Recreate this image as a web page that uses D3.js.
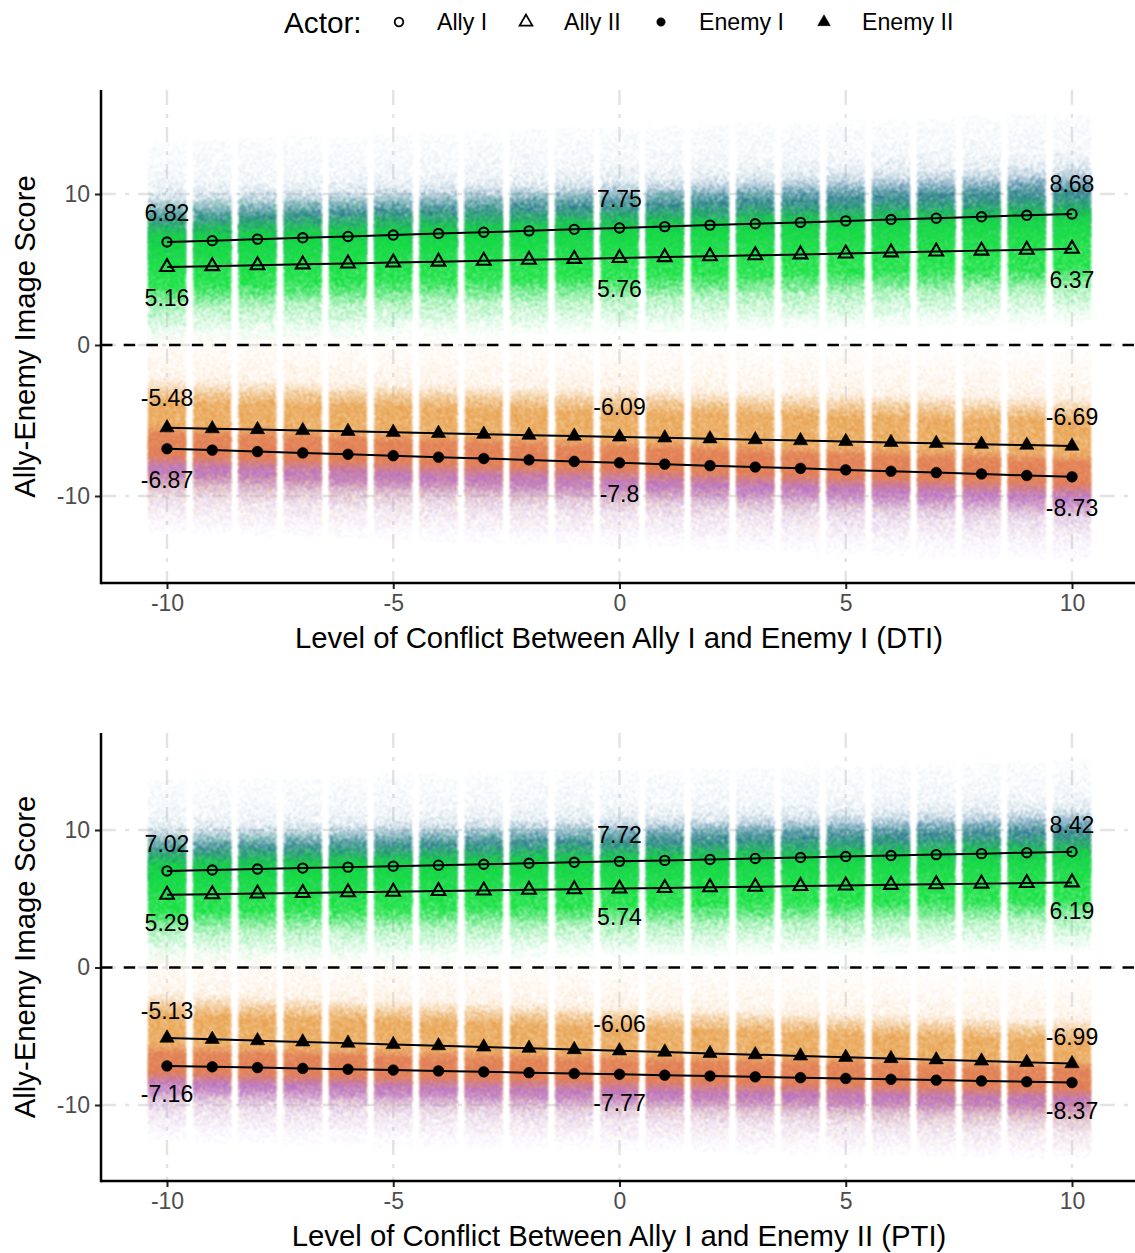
<!DOCTYPE html>
<html>
<head>
<meta charset="utf-8">
<style>
  html, body { margin: 0; padding: 0; background: #fff; }
  text { font-family: "Liberation Sans", Arial, sans-serif; }
</style>
<script src="https://cdn.jsdelivr.net/npm/d3@7"></script>
</head>
<body>
<div id="chart"></div>
<script>
// x positions
var levels = [-10, -9, -8, -7, -6, -5, -4, -3, -2, -1, 0, 1, 2, 3, 4, 5, 6, 7, 8, 9, 10];
var xTicks = [-10, -5, 0, 5, 10];
var yTicks = [-10, 0, 10];
var labelledLevels = [-10, 0, 10];
var actorNames = ["Ally I", "Ally II", "Enemy I", "Enemy II"];

// top panel (DTI)
var dtiAlly1 = [6.82, 6.91, 7.01, 7.10, 7.19, 7.28, 7.38, 7.47, 7.56, 7.66, 7.75, 7.84, 7.94, 8.03, 8.12, 8.22, 8.31, 8.40, 8.49, 8.59, 8.68];
var dtiAlly2 = [5.16, 5.22, 5.28, 5.34, 5.40, 5.46, 5.52, 5.58, 5.64, 5.70, 5.76, 5.82, 5.88, 5.94, 6.00, 6.06, 6.13, 6.19, 6.25, 6.31, 6.37];
var dtiEnemy1 = [-6.87, -6.96, -7.06, -7.15, -7.24, -7.33, -7.43, -7.52, -7.61, -7.71, -7.80, -7.89, -7.99, -8.08, -8.17, -8.27, -8.36, -8.45, -8.54, -8.64, -8.73];
var dtiEnemy2 = [-5.48, -5.54, -5.60, -5.66, -5.72, -5.78, -5.85, -5.91, -5.97, -6.03, -6.09, -6.15, -6.21, -6.27, -6.33, -6.39, -6.45, -6.51, -6.57, -6.63, -6.69];

// bottom panel (PTI)
var ptiAlly1 = [7.02, 7.09, 7.16, 7.23, 7.30, 7.37, 7.44, 7.51, 7.58, 7.65, 7.72, 7.79, 7.86, 7.93, 8.00, 8.07, 8.14, 8.21, 8.28, 8.35, 8.42];
var ptiAlly2 = [5.29, 5.33, 5.38, 5.42, 5.47, 5.51, 5.56, 5.60, 5.65, 5.69, 5.74, 5.78, 5.83, 5.87, 5.92, 5.96, 6.01, 6.05, 6.10, 6.14, 6.19];
var ptiEnemy1 = [-7.16, -7.22, -7.28, -7.34, -7.40, -7.46, -7.52, -7.59, -7.65, -7.71, -7.77, -7.83, -7.89, -7.95, -8.01, -8.07, -8.13, -8.19, -8.25, -8.31, -8.37];
var ptiEnemy2 = [-5.13, -5.22, -5.32, -5.41, -5.50, -5.60, -5.69, -5.78, -5.87, -5.97, -6.06, -6.15, -6.25, -6.34, -6.43, -6.53, -6.62, -6.71, -6.80, -6.90, -6.99];

// how thick each actor's cloud of scores looks: [score above/below the mean, colour, coverage]
var ally1Cloud = [[6.7, "#b4cddc", 0], [6.0, "#b4cddc", .08], [4.2, "#a9c5d6", .16], [3.3, "#8fb3c9", .26], [2.7, "#6a9ab6", .46], [2.1, "#4583a5", .72], [1.5, "#2c7394", .95], [0, "#1f7a80", 1], [-3, "#1f7a80", 0]];
var ally2Cloud = [[4.4, "#12dc3c", 0], [3.4, "#12dc3c", .18], [2.7, "#12dc3c", .55], [2.1, "#12dc3c", .9], [1.5, "#10e03c", 1], [-1.2, "#10e03c", 1], [-2, "#22de4c", .72], [-2.7, "#45e268", .48], [-3.8, "#68e688", .28], [-4.5, "#90eca8", .12], [-5, "#90eca8", 0]];
var enemy2Cloud = [[6.4, "#f9d8b4", 0], [5.6, "#f9d8b4", .1], [3.3, "#f7cb9c", .26], [2.5, "#eaae62", .62], [1.6, "#e8a24e", 1], [-3, "#e8a24e", .9], [-3.8, "#e8ac68", .5], [-5, "#f0c59a", .18], [-6.4, "#f0c59a", 0]];
var enemy1Cloud = [[1.6, "#e07a55", 0], [0.9, "#e07a55", .9], [-0.4, "#e07a55", 1], [-1.3, "#b56ed0", .9], [-1.8, "#b56ed0", .72], [-2.6, "#b88ede", .4], [-3.5, "#c8a6e8", .26], [-5, "#d8c0f2", .1], [-5.6, "#d8c0f2", 0]];

var width = 1135, height = 1253;
var cloudHalfWidth = 0.42;

var svg = d3.select("#chart").append("svg")
  .attr("width", width)
  .attr("height", height)
  .style("display", "block");

var defs = svg.append("defs");

// dither the gradients into small dots, so thin areas are sparse and thick areas solid
function addSpeckle(id, seed) {
  var f = defs.append("filter")
    .attr("id", id)
    .attr("filterUnits", "userSpaceOnUse")
    .attr("x", 0).attr("y", 0)
    .attr("width", width).attr("height", height)
    .attr("color-interpolation-filters", "sRGB");
  f.append("feTurbulence")
    .attr("type", "fractalNoise")
    .attr("baseFrequency", 0.65)
    .attr("numOctaves", 2)
    .attr("seed", seed)
    .attr("result", "noise");
  f.append("feColorMatrix")
    .attr("in", "noise")
    .attr("type", "matrix")
    .attr("values", "0 0 0 0 0  0 0 0 0 0  0 0 0 0 0  3.2 0 0 0 -1.1")
    .attr("result", "grain");
  f.append("feColorMatrix")
    .attr("in", "SourceGraphic")
    .attr("type", "matrix")
    .attr("values", "0 0 0 0 0  0 0 0 0 0  0 0 0 0 0  0 0 0 1 0")
    .attr("result", "density");
  f.append("feComposite")
    .attr("in", "density")
    .attr("in2", "grain")
    .attr("operator", "arithmetic")
    .attr("k1", 0).attr("k2", 2.6).attr("k3", 2.6).attr("k4", -2.3)
    .attr("result", "mask");
  f.append("feColorMatrix")
    .attr("in", "SourceGraphic")
    .attr("type", "matrix")
    .attr("values", "1 0 0 0 0  0 1 0 0 0  0 0 1 0 0  0 0 0 100 0")
    .attr("result", "solid");
  f.append("feComposite")
    .attr("in", "solid")
    .attr("in2", "mask")
    .attr("operator", "in")
    .attr("result", "dots");
  f.append("feGaussianBlur").attr("in", "dots").attr("stdDeviation", 0.8);
}
addSpeckle("speckle1", 3);
addSpeckle("speckle2", 11);
addSpeckle("speckle3", 23);
addSpeckle("speckle4", 37);

var panels = [
  {
    id: "dti",
    title: "Level of Conflict Between Ally I and Enemy I (DTI)",
    top: 90, bottom: 583, y10: 194, yMinus10: 496,
    ally1: dtiAlly1, ally2: dtiAlly2, enemy1: dtiEnemy1, enemy2: dtiEnemy2
  },
  {
    id: "pti",
    title: "Level of Conflict Between Ally I and Enemy II (PTI)",
    top: 733, bottom: 1181, y10: 830, yMinus10: 1105,
    ally1: ptiAlly1, ally2: ptiAlly2, enemy1: ptiEnemy1, enemy2: ptiEnemy2
  }
];

var x = d3.scaleLinear().domain([-10, 10]).range([167, 1072]);
var xLeft = 101, xRight = 1135;

panels.forEach(drawPanel);
drawLegend();

function drawPanel(p) {
  var y = d3.scaleLinear().domain([-10, 10]).range([p.yMinus10, p.y10]);
  var g = svg.append("g").attr("class", "panel-" + p.id);

  // grid
  var dash = "15,9,4,9";
  g.append("g").selectAll("line").data(xTicks).enter().append("line")
    .attr("x1", function (d) { return x(d); })
    .attr("x2", function (d) { return x(d); })
    .attr("y1", p.top).attr("y2", p.bottom)
    .style("stroke", "#e3e3e3").style("stroke-width", 2.4).style("stroke-dasharray", dash);
  g.append("g").selectAll("line").data(yTicks).enter().append("line")
    .attr("x1", xLeft).attr("x2", xRight)
    .attr("y1", function (d) { return y(d); })
    .attr("y2", function (d) { return y(d); })
    .style("stroke", "#e3e3e3").style("stroke-width", 2.4).style("stroke-dasharray", dash);

  // score clouds, one column per level
  drawCloud(g, p, y, "ally1", p.ally1, ally1Cloud, "speckle1");
  drawCloud(g, p, y, "ally2", p.ally2, ally2Cloud, "speckle2");
  drawCloud(g, p, y, "enemy2", p.enemy2, enemy2Cloud, "speckle3");
  drawCloud(g, p, y, "enemy1", p.enemy1, enemy1Cloud, "speckle4");

  // zero line
  g.append("line")
    .attr("x1", xLeft).attr("x2", xRight)
    .attr("y1", y(0)).attr("y2", y(0))
    .style("stroke", "#000").style("stroke-width", 2.5).style("stroke-dasharray", "11.5,11.2");

  // axes
  var xAxis = g.append("g")
    .attr("transform", "translate(0," + p.bottom + ")")
    .call(d3.axisBottom(x).tickValues(xTicks).tickSize(6).tickPadding(6).tickFormat(String));
  var yAxis = g.append("g")
    .attr("transform", "translate(" + xLeft + ",0)")
    .call(d3.axisLeft(y).tickValues(yTicks).tickSize(6).tickPadding(5).tickFormat(String));

  [xAxis, yAxis].forEach(function (a) {
    a.select(".domain").remove();
    a.selectAll(".tick line").style("stroke", "#222").style("stroke-width", 2);
    a.selectAll("text")
      .style("font-size", "23px")
      .style("font-family", '"Liberation Sans", Arial, sans-serif')
      .style("fill", "#4d4d4d");
  });

  g.append("line").attr("x1", xLeft).attr("x2", xLeft).attr("y1", p.top).attr("y2", p.bottom + 1.25)
    .style("stroke", "#000").style("stroke-width", 2.5);
  g.append("line").attr("x1", xLeft).attr("x2", xRight).attr("y1", p.bottom).attr("y2", p.bottom)
    .style("stroke", "#000").style("stroke-width", 2.5);

  // axis titles
  g.append("text")
    .attr("x", 619).attr("y", p.bottom + 65)
    .style("text-anchor", "middle").style("font-size", "29.3px").style("fill", "#000")
    .text(p.title);
  var midY = (p.top + p.bottom) / 2;
  g.append("text")
    .attr("transform", "translate(35," + midY + ") rotate(-90)")
    .style("text-anchor", "middle").style("font-size", "29.3px").style("fill", "#000")
    .text("Ally-Enemy Image Score");

  // mean lines
  drawSeries(g, y, p.ally1, d3.symbolCircle, "none");
  drawSeries(g, y, p.ally2, d3.symbolTriangle, "none");
  drawSeries(g, y, p.enemy2, d3.symbolTriangle, "#000");
  drawSeries(g, y, p.enemy1, d3.symbolCircle, "#000");

  // value labels at -10, 0 and 10, two units above or below the mean
  drawValueLabels(g, y, p.ally1, 2);
  drawValueLabels(g, y, p.ally2, -2);
  drawValueLabels(g, y, p.enemy2, 2);
  drawValueLabels(g, y, p.enemy1, -2);
}

function drawCloud(g, p, y, name, means, stops, filterId) {
  var layer = g.append("g").attr("filter", "url(#" + filterId + ")");
  levels.forEach(function (level, i) {
    var id = p.id + "-" + name + "-" + i;
    var top = means[i] + stops[0][0];
    var bottom = means[i] + stops[stops.length - 1][0];
    var grad = defs.append("linearGradient")
      .attr("id", id)
      .attr("gradientUnits", "userSpaceOnUse")
      .attr("x1", 0).attr("x2", 0)
      .attr("y1", y(top)).attr("y2", y(bottom));
    stops.forEach(function (s) {
      grad.append("stop")
        .attr("offset", (stops[0][0] - s[0]) / (stops[0][0] - stops[stops.length - 1][0]))
        .attr("stop-color", s[1])
        .attr("stop-opacity", s[2]);
    });
    layer.append("rect")
      .attr("x", x(level - cloudHalfWidth))
      .attr("width", x(level + cloudHalfWidth) - x(level - cloudHalfWidth))
      .attr("y", y(top))
      .attr("height", y(bottom) - y(top))
      .style("fill", "url(#" + id + ")");
  });
}

function drawSeries(g, y, values, shape, fill) {
  var line = d3.line()
    .x(function (d, i) { return x(levels[i]); })
    .y(function (d) { return y(d); });
  g.append("path")
    .attr("d", line(values))
    .style("fill", "none").style("stroke", "#000").style("stroke-width", 2);
  var isCircle = shape === d3.symbolCircle;
  var symbol = d3.symbol().type(shape).size(isCircle ? (fill === "none" ? 68 : 90) : (fill === "none" ? 82 : 88));
  g.append("g").selectAll("path").data(values).enter().append("path")
    .attr("d", symbol)
    .attr("transform", function (d, i) { return "translate(" + x(levels[i]) + "," + y(d) + ")"; })
    .style("fill", fill)
    .style("stroke", "#000")
    .style("stroke-width", fill === "none" ? 2.1 : 0.6);
}

function drawValueLabels(g, y, values, nudge) {
  labelledLevels.forEach(function (level) {
    var v = values[levels.indexOf(level)];
    g.append("text")
      .attr("x", x(level))
      .attr("y", y(v + nudge))
      .attr("dy", "0.38em")
      .style("text-anchor", "middle")
      .style("font-size", "23px")
      .style("fill", "#000")
      .text(String(v));
  });
}

function drawLegend() {
  var legend = svg.append("g").attr("class", "legend");
  legend.append("text")
    .attr("x", 284).attr("y", 33)
    .style("font-size", "29.7px").style("fill", "#000")
    .text("Actor:");
  var shapes = [d3.symbolCircle, d3.symbolTriangle, d3.symbolCircle, d3.symbolTriangle];
  var fills = ["none", "none", "#000", "#000"];
  var keyX = [399, 526, 661, 824];
  var textX = [437, 564, 699, 862];
  actorNames.forEach(function (name, i) {
    legend.append("path")
      .attr("d", d3.symbol().type(shapes[i]).size(i % 2 ? 70 : (i ? 56 : 58)))
      .attr("transform", "translate(" + keyX[i] + ",22)")
      .style("fill", fills[i])
      .style("stroke", "#000")
      .style("stroke-width", fills[i] === "none" ? 1.8 : 0.5);
    legend.append("text")
      .attr("x", textX[i]).attr("y", 30)
      .style("font-size", "23.2px").style("fill", "#000")
      .text(name);
  });
}
</script>
</body>
</html>
